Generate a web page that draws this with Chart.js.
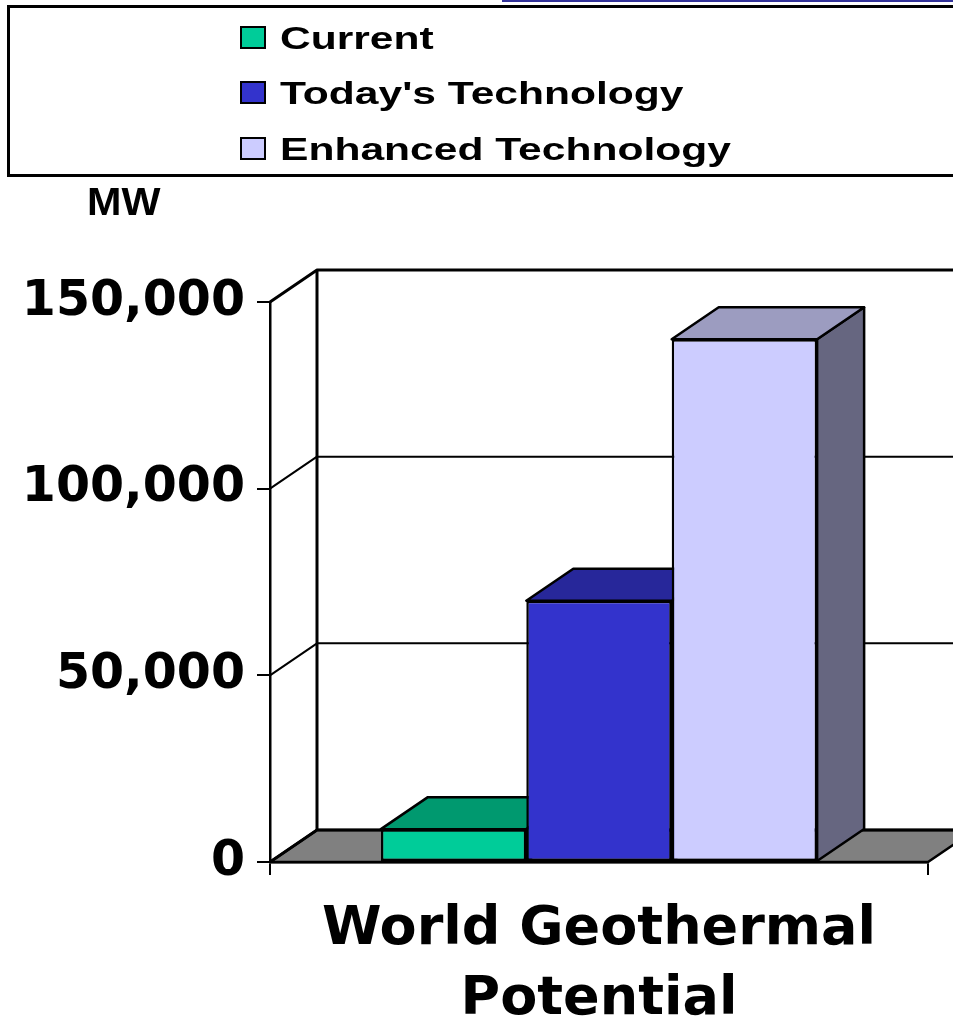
<!DOCTYPE html>
<html>
<head>
<meta charset="utf-8">
<title>World Geothermal Potential</title>
<script src="https://cdn.jsdelivr.net/npm/chart.js@4.4.1/dist/chart.umd.min.js"></script>
<style>
  html, body { margin: 0; padding: 0; background: #fff; overflow: hidden; }
  #wrap { position: relative; width: 953px; height: 1020px; overflow: hidden; }
  #chart { position: absolute; left: 0; top: 0; }
  #topRule { position: absolute; left: 502px; top: 0; width: 470px; height: 2px; background: #33339a; }
  #legendBox { position: absolute; left: 7px; top: 5px; width: 980px; height: 166px; border: 3px solid #000; }
  .swatch { position: absolute; left: 240px; width: 26px; height: 23px; border: 2px solid #000; box-sizing: border-box; }
  .entry { position: absolute; left: 280px; font: bold 32px "Liberation Sans", Arial, sans-serif; line-height: 32px;
           white-space: nowrap; transform: scaleX(1.33); transform-origin: 0 0; color: #000; }
  #unit { position: absolute; left: 87px; top: 182px; font: bold 39px "Liberation Sans", Arial, sans-serif; line-height: 39px;
          transform: scaleX(1.06); transform-origin: 0 0; color: #000; }
</style>
</head>
<body>
<div id="wrap">
  <canvas id="chart" width="953" height="1020"></canvas>
  <div id="topRule"></div>
  <div id="legendBox"></div>
  <div id="unit">MW</div>
</div>
<script>
// Category and series
const categories = [['World Geothermal', 'Potential']];
const seriesNames = ['Current', "Today's Technology", 'Enhanced Technology'];
const currentMW = [8800];
const todaysTechMW = [70000];
const enhancedTechMW = [140000];
const seriesValues = [currentMW, todaysTechMW, enhancedTechMW];
const yTicksMW = [0, 50000, 100000, 150000];

// Face colours of each 3D bar
const frontColors = ['#00cc99', '#3333cc', '#ccccff'];
const topColors = ['#00996f', '#27279a', '#9c9cc0'];
const sideColors = ['#007a59', '#1f1f80', '#666680'];
const floorColor = '#808080';

// Oblique offset of the chart's depth
const DX = 47, DY = -32;

function poly(ctx, pts, fill, lw) {
  ctx.beginPath();
  ctx.moveTo(pts[0][0], pts[0][1]);
  for (let k = 1; k < pts.length; k++) ctx.lineTo(pts[k][0], pts[k][1]);
  ctx.closePath();
  ctx.fillStyle = fill;
  ctx.fill();
  ctx.lineWidth = lw;
  ctx.strokeStyle = '#000';
  ctx.lineJoin = 'round';
  ctx.stroke();
}

// Walls, floor, gridlines and the top/side faces of the bars
const box3d = {
  id: 'box3d',
  beforeDraw(chart) {
    const { ctx, chartArea: a, scales: { y } } = chart;
    ctx.save();
    // floor
    poly(ctx, [[a.left, a.bottom], [a.right, a.bottom], [a.right + DX, a.bottom + DY], [a.left + DX, a.bottom + DY]], floorColor, 2.5);
    // gridlines: diagonal on the side wall, horizontal on the back wall
    ctx.strokeStyle = '#000';
    y.ticks.forEach(t => {
      const py = y.getPixelForValue(t.value);
      ctx.beginPath();
      ctx.lineWidth = (t.value === y.max || t.value === 0) ? 3 : 2;
      ctx.moveTo(a.left, py);
      ctx.lineTo(a.left + DX, py + DY);
      ctx.lineTo(a.right + DX + 40, py + DY);
      ctx.stroke();
    });
    // back wall left edge
    ctx.beginPath();
    ctx.lineWidth = 3;
    ctx.moveTo(a.left + DX, y.getPixelForValue(y.max) + DY);
    ctx.lineTo(a.left + DX, y.getPixelForValue(0) + DY);
    ctx.stroke();
    ctx.restore();
  },
  beforeDatasetsDraw(chart) {
    const { ctx } = chart;
    ctx.save();
    chart.data.datasets.forEach((ds, i) => {
      const bar = chart.getDatasetMeta(i).data[0];
      const { x, y, width, base } = bar.getProps(['x', 'y', 'width', 'base'], true);
      const l = x - width / 2, r = x + width / 2;
      poly(ctx, [[r, y], [r + DX, y + DY], [r + DX, base + DY], [r, base]], sideColors[i], 2.5);
      poly(ctx, [[l, y], [r, y], [r + DX, y + DY], [l + DX, y + DY]], topColors[i], 2.5);
    });
    ctx.restore();
  }
};

const tickFont = { family: 'DejaVu Sans', weight: 'bold', size: 49 };

const chart = new Chart(document.getElementById('chart'), {
  type: 'bar',
  data: {
    labels: categories,
    datasets: seriesNames.map((name, i) => ({
      label: name,
      data: seriesValues[i],
      backgroundColor: frontColors[i],
      borderColor: '#000',
      borderWidth: 2.5,
      borderSkipped: false,
      categoryPercentage: 0.663,
      barPercentage: 1
    }))
  },
  options: {
    responsive: false,
    animation: false,
    locale: 'en-US',
    layout: { padding: { top: 302, right: 25, left: 0, bottom: 0 } },
    plugins: { legend: { display: false }, tooltip: { enabled: false } },
    scales: {
      x: {
        offset: true,
        grid: { display: true, offset: true, drawOnChartArea: false, drawTicks: true, tickLength: 13, color: '#000', lineWidth: 2 },
        border: { display: true, color: '#000', width: 2.5 },
        ticks: { font: { family: 'DejaVu Sans', weight: 'bold', size: 54, lineHeight: 1.3 }, color: '#000', padding: 20, maxRotation: 0, autoSkip: false },
        afterFit(s) { s.height = 158; }
      },
      y: {
        min: yTicksMW[0],
        max: yTicksMW[yTicksMW.length - 1],
        afterBuildTicks(s) { s.ticks = yTicksMW.map(v => ({ value: v })); },
        ticks: { font: tickFont, color: '#000', padding: 12 },
        grid: { drawOnChartArea: false, drawTicks: true, tickLength: 13, color: '#000', lineWidth: 2 },
        border: { display: true, color: '#000', width: 2.5 },
        afterFit(s) { s.width = 270; }
      }
    }
  },
  plugins: [box3d]
});

// Legend entries built from the chart's datasets
const wrap = document.getElementById('wrap');
chart.data.datasets.forEach((ds, i) => {
  const cy = 37 + i * 55.5;
  const sw = document.createElement('div');
  sw.className = 'swatch';
  sw.style.top = (cy - 11.5) + 'px';
  sw.style.background = ds.backgroundColor;
  wrap.appendChild(sw);
  const tx = document.createElement('div');
  tx.className = 'entry';
  tx.style.top = (cy + 11.5 - 27) + 'px';
  tx.textContent = ds.label;
  wrap.appendChild(tx);
});
</script>
</body>
</html>
